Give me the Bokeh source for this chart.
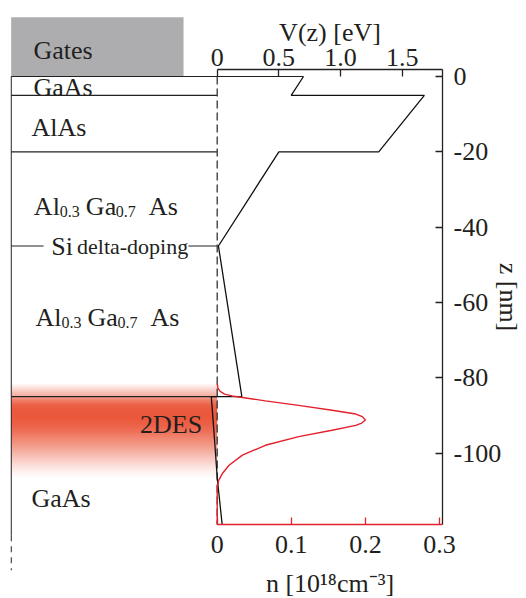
import numpy as np
from bokeh.plotting import figure
from bokeh.models import Range1d, LinearAxis, FixedTicker, NumeralTickFormatter, ColumnDataSource
from bokeh.core.properties import value
from bokeh.embed import file_html
from bokeh.resources import INLINE

# ---------------- data ----------------
LAYER_Z = [0, -5, -20, -45, -85]      # layer boundaries [nm]
GATE_TOP = 15.7                        # top of the gate block [nm]

# conduction band profile V(z) [eV]
V_Z = [0, -5, -5, -20, -20, -45, -85, -85, -94, -106.4, -118.9]
V_E = [0.70, 0.60, 1.68, 1.31, 0.50, 0.01, 0.20, -0.048, -0.027, 0.0, 0.04]

# electron density n(z) [1e18 cm^-3]
N_Z = [-81.5, -82.7, -83.6, -84.3, -84.8, -85.2, -86.1, -87.3, -88.6, -89.6, -90.3, -91.2,
       -92.0, -92.6, -93.9, -95.6, -97.9, -100.5, -103.2, -105.4, -107.2, -108.9, -118.9]
N_VAL = [0.0, 0.001, 0.004, 0.010, 0.020, 0.034, 0.065, 0.110, 0.155, 0.187, 0.196, 0.200,
         0.195, 0.187, 0.155, 0.110, 0.065, 0.034, 0.016, 0.007, 0.002, 0.0, 0.0]

# 2DES glow intensity (opacity) vs z
GLOW_Z = [-81.5, -82.6, -83.9, -85, -86, -87.4, -88.7, -90.8, -92.6, -94.5,
          -96.6, -98.8, -100.9, -103, -105.1, -106.7]
GLOW_A = [0, 0.15, 0.35, 0.5, 0.75, 0.95, 1, 1, 0.95, 0.85,
          0.7, 0.55, 0.38, 0.22, 0.08, 0]

V_TICKS = [0, 0.5, 1.0, 1.5]
N_TICKS = [0, 0.1, 0.2, 0.3]
Z_TICKS = [0, -20, -40, -60, -80, -100]
V_MAX, N_MAX = 1.827, 0.304
Z_MIN, Z_MAX = -118.9, 1.86

# ---------------- styling / layout ----------------
FONT = "Liberation Serif"
TEXT = "#231f20"
RED = "#e3202c"
GLOW_RGB = (235, 88, 60)
LEFT = -1.671            # left edge of the layer schematic (x in eV units)
GATE_RIGHT = -0.273
SI_GAP = (-1.408, -0.234)  # where the delta-doping label interrupts its line
TY = -8                  # text vertical pixel offset

p = figure(width=526, height=598, output_backend="svg", toolbar_location=None,
           x_range=Range1d(-1.6764, 2.5085), y_range=Range1d(-138.57, 17.52),
           x_axis_location=None, y_axis_location=None, title=None,
           min_border_left=10, min_border_right=0, min_border_top=10, min_border_bottom=0)
p.extra_x_ranges = {"n": Range1d(-0.27895, 0.41741)}
p.outline_line_color = None
p.background_fill_color = "white"
p.border_fill_color = "white"
p.grid.grid_line_color = None

# gate block
p.quad(left=[LEFT], right=[GATE_RIGHT], bottom=[LAYER_Z[0]], top=[GATE_TOP],
       fill_color="#adadb0", line_color=None)

# 2DES glow
zb, zt = GLOW_Z[-1], GLOW_Z[0]
rows = 240
zs = np.linspace(zb, zt, rows)
alpha = np.interp(zs, GLOW_Z[::-1], GLOW_A[::-1])
img = np.empty((rows, 1), dtype=np.uint32)
view = img.view(dtype=np.uint8).reshape((rows, 1, 4))
view[:, 0, 0] = GLOW_RGB[0]
view[:, 0, 1] = GLOW_RGB[1]
view[:, 0, 2] = GLOW_RGB[2]
view[:, 0, 3] = (alpha * 255).astype(np.uint8)
p.image_rgba(image=[img], x=LEFT, y=zb, dw=0 - LEFT, dh=zt - zb)

# layer boundary lines (the delta-doping line is interrupted by its label)
x0s, x1s, ys = [], [], []
for i, z in enumerate(LAYER_Z):
    end = V_E[0] if i == 0 else 0
    if z == -45:
        x0s += [LEFT, SI_GAP[1]]
        x1s += [SI_GAP[0], end]
        ys += [z, z]
    else:
        x0s.append(LEFT)
        x1s.append(end)
        ys.append(z)
p.segment(x0=x0s, y0=ys, x1=x1s, y1=ys, line_color="#222222", line_width=1.2)

# left edge (solid, then dashed continuation)
p.line([LEFT, LEFT], [LAYER_Z[0], -121.8], line_color="#222222", line_width=1.2)
p.line([LEFT, LEFT], [-121.8, -131.1], line_color="#222222", line_width=1.2, line_dash="6 5")

# zero line (dashed)
p.line([0, 0], [LAYER_Z[0], Z_MIN], line_color="#333333", line_width=1.3, line_dash="8 4")

# potential
p.line(V_E, V_Z, line_color="#111111", line_width=1.3)

# density
p.line(N_VAL, N_Z, x_range_name="n", line_color=RED, line_width=1.4)

# ---------------- axes ----------------
def style_axis(ax, color):
    ax.axis_line_color = color
    ax.axis_line_width = 1.3
    ax.major_tick_line_color = color
    ax.major_tick_line_width = 1.3
    ax.major_tick_in = 7
    ax.major_tick_out = 0
    ax.minor_tick_line_color = None
    ax.major_label_text_font = FONT
    ax.major_label_text_font_size = "26px"
    ax.major_label_text_color = TEXT
    ax.axis_label_text_font = FONT
    ax.axis_label_text_font_size = "26px"
    ax.axis_label_text_font_style = "normal"
    ax.axis_label_text_color = TEXT

top = LinearAxis(ticker=FixedTicker(ticks=V_TICKS), formatter=NumeralTickFormatter(format="0.0"),
                 major_label_overrides={0: "0"}, bounds=(0, V_MAX), fixed_location=Z_MAX,
                 axis_label="V(z) [eV]")
style_axis(top, "#222222")
top.major_label_standoff = 3
top.axis_label_standoff = 0
p.add_layout(top, "above")

bottom = LinearAxis(x_range_name="n", ticker=FixedTicker(ticks=N_TICKS),
                    formatter=NumeralTickFormatter(format="0.0"), major_label_overrides={0: "0"},
                    bounds=(0, N_MAX), fixed_location=Z_MIN, axis_label="n [10¹⁸cm⁻³]")
style_axis(bottom, RED)
bottom.major_label_standoff = 12
bottom.axis_label_standoff = 12
p.add_layout(bottom, "below")

right = LinearAxis(ticker=FixedTicker(ticks=Z_TICKS), bounds=(Z_MIN, Z_MAX),
                   major_label_overrides={t: str(t) for t in Z_TICKS},
                   fixed_location=V_MAX, axis_label="z [nm]")
style_axis(right, "#222222")
right.major_label_standoff = 11
right.axis_label_standoff = -10
p.add_layout(right, "right")

# ---------------- layer labels ----------------
def txt(x, y, t, size="26px", align="left"):
    p.text(x=[x], y=[y], text=[t], text_font=value(FONT), text_font_size=size, y_offset=TY,
           text_color=TEXT, text_align=align, text_baseline="alphabetic")

txt(-1.490, 4.7, "Gates")
txt(-1.490, -5.0, "GaAs")
txt(-1.506, -15.7, "AlAs")
txt(-1.346, -47.25, "Si")
txt(-1.137, -47.25, "delta-doping", size="22px")
txt(-0.122, -94.4, "2DES", align="right")
txt(-1.506, -114.1, "GaAs")

def algaas(x, y):
    src = ColumnDataSource(dict(
        x=[x] * 5, y=[y] * 5,
        text=["Al", "0.3", "Ga", "0.7", "As"],
        dx=[0, 26, 52, 82, 115], dy=[TY, TY + 5, TY, TY + 5, TY],
        size=["26px", "16px", "26px", "16px", "26px"]))
    p.text(x="x", y="y", text="text", x_offset="dx", y_offset="dy", text_font_size="size",
           source=src, text_font=value(FONT), text_color=TEXT,
           text_align="left", text_baseline="alphabetic")

algaas(-1.487, -36.6)
algaas(-1.474, -66.1)

open("out.html", "w").write(file_html(p, INLINE))
